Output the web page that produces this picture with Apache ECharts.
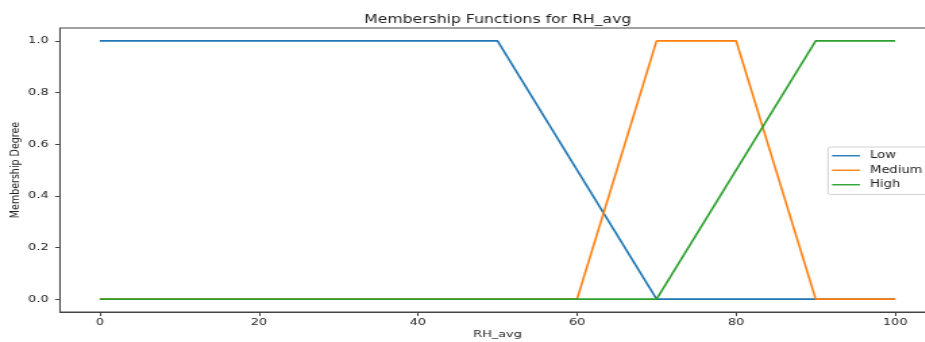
<!DOCTYPE html>
<html><head><meta charset="utf-8">
<script src="https://cdn.jsdelivr.net/npm/echarts@6/dist/echarts.min.js"></script>
<style>html,body{margin:0;padding:0;background:#fff;overflow:hidden}#c{height:342px;transform-origin:0 0}</style>
</head><body><div id="c"></div>
<script>
const seriesNames = ["Low", "Medium", "High"];
const lowPts = [[0,1],[50,1],[70,0],[100,0]];
const mediumPts = [[0,0],[60,0],[70,1],[80,1],[90,0],[100,0]];
const highPts = [[0,0],[70,0],[90,1],[100,1]];
const xTicks = [0,20,40,60,80,100];
const yTicks = [0,0.2,0.4,0.6,0.8,1.0];
const colors = ["#1f77b4", "#ff7f0e", "#2ca02c"];

// the reference figure is stretched horizontally; render narrower and stretch the same way
const S = 1.35;
const el = document.getElementById('c');
el.style.width = (925 / S) + 'px';
el.style.transform = 'scaleX(' + S + ')';
const X = v => v / S;

const chart = echarts.init(el, null, {renderer:'canvas'});
const font = 'DejaVu Sans';
const mk = (name, data, i) => ({
  name, type:'line', data, showSymbol:false, symbol:'none',
  lineStyle:{color:colors[i], width:1.6}, itemStyle:{color:colors[i]}, z: 3+i, animation:false
});
chart.setOption({
  animation:false,
  title:{text:'Membership Functions for RH_avg', left:X(491), top:9, textAlign:'center',
    textStyle:{fontFamily:font, fontSize:11.6, fontWeight:'normal', color:'#222'}},
  grid:{left:X(60), top:28, width:X(875), height:284, show:true, borderColor:'#444', borderWidth:1,
    containLabel:false, outerBoundsMode:'none'},
  legend:{orient:'vertical', left:X(828), top:147, data:seriesNames, icon:'path://M0,0L30,0L30,2L0,2Z',
    itemWidth:X(28), itemHeight:2, itemGap:3, padding:[3,20,4,X(4)],
    borderColor:'#d0d0d0', borderWidth:1, borderRadius:2, backgroundColor:'#fff',
    textStyle:{fontFamily:font, fontSize:9.7, lineHeight:11.5, color:'#222', padding:[0,0,0,2.5]}},
  xAxis:{type:'value', min:-5, max:105, name:'RH_avg', nameLocation:'middle', nameGap:18, nameMoveOverlap:false,
    nameTextStyle:{fontFamily:font, fontSize:9.5, color:'#222'},
    axisLine:{show:true, onZero:false, lineStyle:{color:'#444'}},
    axisTick:{show:true, inside:false, length:4, customValues:xTicks, lineStyle:{color:'#444'}},
    axisLabel:{customValues:xTicks, fontFamily:font, fontSize:9.5, color:'#222', margin:6},
    splitLine:{show:false}},
  yAxis:{type:'value', min:-0.05, max:1.05, name:'Membership Degree', nameLocation:'middle', nameGap:28, nameMoveOverlap:false,
    nameTextStyle:{fontFamily:font, fontSize:9.5, color:'#222'},
    axisLine:{show:true, onZero:false, lineStyle:{color:'#444'}},
    axisTick:{show:true, length:3.6, customValues:yTicks, lineStyle:{color:'#444'}},
    axisLabel:{customValues:yTicks, formatter:v=>v.toFixed(1), fontFamily:font, fontSize:9.5, color:'#222', margin:8.5},
    splitLine:{show:false}},
  series:[mk(seriesNames[0], lowPts, 0), mk(seriesNames[1], mediumPts, 1), mk(seriesNames[2], highPts, 2)]
});
</script></body></html>
